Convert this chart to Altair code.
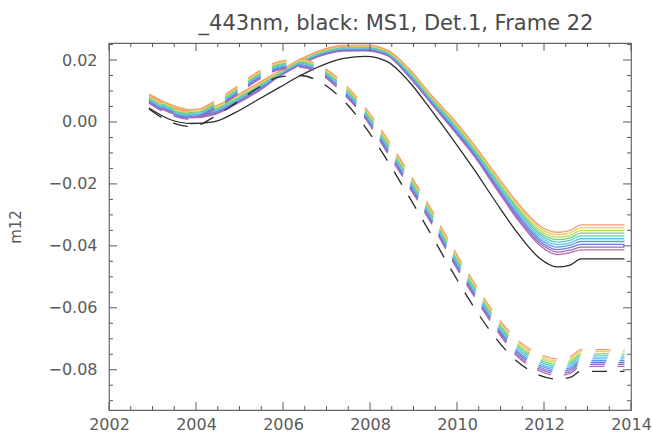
import altair as alt
import pandas as pd

# Sample years shared by every curve
YEARS = [2002.92, 2003.4, 2003.9, 2004.4, 2004.9, 2005.4, 2005.9, 2006.4, 2006.9,
         2007.4, 2007.9, 2008.4, 2008.9, 2009.4, 2009.9, 2010.4, 2010.9, 2011.4,
         2011.9, 2012.3, 2012.6, 2012.85, 2013.85]

SERIES = ["black", "c0", "c1", "c2", "c3", "c4", "c5", "c6", "c7", "c8", "c9"]
COLORS = ["#2a2a2a", "#b06aa8", "#9a6cc4", "#6f78d8", "#5a9be6", "#6cc0ee",
          "#5ccfc0", "#6fcf7a", "#b8dc6a", "#f2d060", "#f79a6e"]

# Solid curves
SOLID_BLACK = [0.0045, 0.0008, -0.0005, 0.0000, 0.0030, 0.0070, 0.0110, 0.0150, 0.0183, 0.0205, 0.0212, 0.0195, 0.0130, 0.0040, -0.0055, -0.0155, -0.0260, -0.0360, -0.0440, -0.0468, -0.0462, -0.0442, -0.0442]
SOLID_C0 = [0.0063, 0.0030, 0.0013, 0.0023, 0.0056, 0.0096, 0.0145, 0.0185, 0.0215, 0.0229, 0.0230, 0.0214, 0.0145, 0.0061, -0.0024, -0.0111, -0.0215, -0.0316, -0.0398, -0.0428, -0.0422, -0.0413, -0.0413]
SOLID_C1 = [0.0066, 0.0033, 0.0016, 0.0026, 0.0059, 0.0099, 0.0147, 0.0187, 0.0217, 0.0231, 0.0232, 0.0216, 0.0148, 0.0064, -0.0020, -0.0107, -0.0210, -0.0310, -0.0391, -0.0420, -0.0414, -0.0404, -0.0404]
SOLID_C2 = [0.0069, 0.0036, 0.0019, 0.0029, 0.0062, 0.0102, 0.0149, 0.0189, 0.0219, 0.0233, 0.0234, 0.0218, 0.0151, 0.0067, -0.0016, -0.0103, -0.0205, -0.0304, -0.0384, -0.0412, -0.0406, -0.0395, -0.0395]
SOLID_C3 = [0.0072, 0.0039, 0.0022, 0.0032, 0.0065, 0.0105, 0.0151, 0.0191, 0.0221, 0.0235, 0.0236, 0.0220, 0.0154, 0.0070, -0.0012, -0.0099, -0.0200, -0.0298, -0.0377, -0.0404, -0.0398, -0.0386, -0.0386]
SOLID_C4 = [0.0075, 0.0042, 0.0025, 0.0035, 0.0068, 0.0108, 0.0153, 0.0193, 0.0223, 0.0237, 0.0238, 0.0222, 0.0157, 0.0073, -0.0008, -0.0095, -0.0195, -0.0292, -0.0370, -0.0396, -0.0390, -0.0377, -0.0377]
SOLID_C5 = [0.0078, 0.0045, 0.0028, 0.0038, 0.0071, 0.0111, 0.0155, 0.0195, 0.0225, 0.0239, 0.0240, 0.0224, 0.0160, 0.0076, -0.0004, -0.0091, -0.0190, -0.0286, -0.0363, -0.0388, -0.0382, -0.0368, -0.0368]
SOLID_C6 = [0.0081, 0.0048, 0.0031, 0.0041, 0.0074, 0.0114, 0.0157, 0.0197, 0.0227, 0.0241, 0.0242, 0.0226, 0.0163, 0.0079, 0.0000, -0.0087, -0.0185, -0.0280, -0.0356, -0.0380, -0.0374, -0.0359, -0.0359]
SOLID_C7 = [0.0084, 0.0051, 0.0034, 0.0044, 0.0077, 0.0117, 0.0159, 0.0199, 0.0229, 0.0243, 0.0244, 0.0228, 0.0166, 0.0082, 0.0004, -0.0083, -0.0180, -0.0274, -0.0349, -0.0372, -0.0366, -0.0350, -0.0350]
SOLID_C8 = [0.0087, 0.0054, 0.0037, 0.0047, 0.0080, 0.0120, 0.0161, 0.0201, 0.0231, 0.0245, 0.0246, 0.0230, 0.0169, 0.0085, 0.0008, -0.0079, -0.0175, -0.0268, -0.0342, -0.0364, -0.0358, -0.0341, -0.0341]
SOLID_C9 = [0.0090, 0.0057, 0.0040, 0.0050, 0.0083, 0.0123, 0.0163, 0.0203, 0.0233, 0.0247, 0.0248, 0.0232, 0.0172, 0.0088, 0.0012, -0.0075, -0.0170, -0.0262, -0.0335, -0.0356, -0.0350, -0.0332, -0.0332]

# Dashed curves
DASH_BLACK = [0.0042, 0.0000, -0.0015, 0.0015, 0.0060, 0.0108, 0.0145, 0.0150, 0.0125, 0.0068, -0.0018, -0.0125, -0.0242, -0.0362, -0.0485, -0.0600, -0.0700, -0.0775, -0.0818, -0.0830, -0.0825, -0.0805, -0.0805]
DASH_C0 = [0.0061, 0.0023, 0.0008, 0.0038, 0.0083, 0.0133, 0.0168, 0.0176, 0.0151, 0.0089, 0.0009, -0.0100, -0.0210, -0.0325, -0.0450, -0.0565, -0.0670, -0.0759, -0.0804, -0.0819, -0.0812, -0.0789, -0.0789]
DASH_C1 = [0.0064, 0.0026, 0.0011, 0.0041, 0.0086, 0.0136, 0.0171, 0.0179, 0.0154, 0.0093, 0.0013, -0.0095, -0.0205, -0.0320, -0.0445, -0.0560, -0.0665, -0.0753, -0.0798, -0.0813, -0.0806, -0.0783, -0.0783]
DASH_C2 = [0.0067, 0.0029, 0.0014, 0.0044, 0.0089, 0.0139, 0.0174, 0.0182, 0.0157, 0.0097, 0.0017, -0.0090, -0.0200, -0.0315, -0.0440, -0.0555, -0.0660, -0.0747, -0.0792, -0.0807, -0.0800, -0.0777, -0.0777]
DASH_C3 = [0.0070, 0.0032, 0.0017, 0.0047, 0.0092, 0.0142, 0.0177, 0.0185, 0.0160, 0.0101, 0.0021, -0.0085, -0.0195, -0.0310, -0.0435, -0.0550, -0.0655, -0.0741, -0.0786, -0.0801, -0.0794, -0.0771, -0.0771]
DASH_C4 = [0.0073, 0.0035, 0.0020, 0.0050, 0.0095, 0.0145, 0.0180, 0.0188, 0.0163, 0.0105, 0.0025, -0.0080, -0.0190, -0.0305, -0.0430, -0.0545, -0.0650, -0.0735, -0.0780, -0.0795, -0.0788, -0.0765, -0.0765]
DASH_C5 = [0.0076, 0.0038, 0.0023, 0.0053, 0.0098, 0.0148, 0.0183, 0.0191, 0.0166, 0.0109, 0.0029, -0.0075, -0.0185, -0.0300, -0.0425, -0.0540, -0.0645, -0.0729, -0.0774, -0.0789, -0.0782, -0.0759, -0.0759]
DASH_C6 = [0.0079, 0.0041, 0.0026, 0.0056, 0.0101, 0.0151, 0.0186, 0.0194, 0.0169, 0.0113, 0.0033, -0.0070, -0.0180, -0.0295, -0.0420, -0.0535, -0.0640, -0.0723, -0.0768, -0.0783, -0.0776, -0.0753, -0.0753]
DASH_C7 = [0.0082, 0.0044, 0.0029, 0.0059, 0.0104, 0.0154, 0.0189, 0.0197, 0.0172, 0.0117, 0.0037, -0.0065, -0.0175, -0.0290, -0.0415, -0.0530, -0.0635, -0.0717, -0.0762, -0.0777, -0.0770, -0.0747, -0.0747]
DASH_C8 = [0.0085, 0.0047, 0.0032, 0.0062, 0.0107, 0.0157, 0.0192, 0.0200, 0.0175, 0.0121, 0.0041, -0.0060, -0.0170, -0.0285, -0.0410, -0.0525, -0.0630, -0.0711, -0.0756, -0.0771, -0.0764, -0.0741, -0.0741]
DASH_C9 = [0.0088, 0.0050, 0.0035, 0.0065, 0.0110, 0.0160, 0.0195, 0.0203, 0.0178, 0.0125, 0.0045, -0.0055, -0.0165, -0.0280, -0.0405, -0.0520, -0.0625, -0.0705, -0.0750, -0.0765, -0.0758, -0.0735, -0.0735]

SOLID = dict(zip(SERIES, [SOLID_BLACK, SOLID_C0, SOLID_C1, SOLID_C2, SOLID_C3, SOLID_C4,
                          SOLID_C5, SOLID_C6, SOLID_C7, SOLID_C8, SOLID_C9]))
DASHED = dict(zip(SERIES, [DASH_BLACK, DASH_C0, DASH_C1, DASH_C2, DASH_C3, DASH_C4,
                           DASH_C5, DASH_C6, DASH_C7, DASH_C8, DASH_C9]))

TITLE = "_443nm, black: MS1, Det.1, Frame 22"
X_MAJOR = [2002, 2004, 2006, 2008, 2010, 2012, 2014]
Y_MAJOR = [-0.08, -0.06, -0.04, -0.02, 0.0, 0.02]

# Plot box and styling
W, H = 522, 367
X_DOMAIN = [2002, 2014]
Y_DOMAIN = [-0.093, 0.0255]
FONT = "DejaVu Sans"
INK = "#5a5a5a"
MAJOR_LEN, MINOR_LEN = 8, 4

rows = []
for style, table in (("solid", SOLID), ("dashed", DASHED)):
    for order, (name, vals) in enumerate(table.items()):
        for yr, v in zip(YEARS, vals):
            rows.append({"year": yr, "m12": v, "series": name, "style": style, "order": order})
df = pd.DataFrame(rows)

# inward tick positions (majors and minors)
x_minor = [2002 + 0.5 * i for i in range(25) if i % 4]
y_minor = [round(-0.09 + 0.005 * i, 3) for i in range(24) if i % 4 != 2]

xs = alt.Scale(domain=X_DOMAIN, nice=False, zero=False)
ys = alt.Scale(domain=Y_DOMAIN, nice=False, zero=False)
color = alt.Color("series:N", scale=alt.Scale(domain=SERIES, range=COLORS), legend=None)


def x_ticks(values, length, side):
    y0 = H if side == "bottom" else 0
    y1 = H - length if side == "bottom" else length
    return alt.Chart(pd.DataFrame({"pos": values})).mark_rule(
        color=INK, strokeWidth=1
    ).encode(x=alt.X("pos:Q", scale=xs), y=alt.value(y0), y2=alt.value(y1))


def y_ticks(values, length, side):
    x0 = 0 if side == "left" else W
    x1 = length if side == "left" else W - length
    return alt.Chart(pd.DataFrame({"pos": values})).mark_rule(
        color=INK, strokeWidth=1
    ).encode(y=alt.Y("pos:Q", scale=ys), x=alt.value(x0), x2=alt.value(x1))


base = alt.Chart(df)

solid = base.transform_filter(alt.datum.style == "solid").mark_line(
    interpolate="monotone", strokeWidth=1.3
).encode(
    x=alt.X("year:Q", scale=xs, axis=alt.Axis(
        values=X_MAJOR, format="d", ticks=False, domain=False, grid=False, title=None,
        labelFont=FONT, labelFontSize=16, labelColor=INK, labelPadding=6,
        labelFlush=False, labelOverlap=False)),
    y=alt.Y("m12:Q", scale=ys, axis=alt.Axis(
        values=Y_MAJOR, format=".2f", ticks=False, domain=False, grid=False, title="m12",
        labelFont=FONT, labelFontSize=16, labelColor=INK, labelPadding=12,
        labelFlush=False, labelOverlap=False,
        titleFont=FONT, titleFontSize=15, titleColor=INK, titleFontWeight="normal",
        titlePadding=24)),
    color=color,
    order="order:Q",
)

dashed = base.transform_filter(alt.datum.style == "dashed").mark_line(
    interpolate="monotone", strokeWidth=1.3, strokeDash=[15, 13]
).encode(
    x=alt.X("year:Q", scale=xs),
    y=alt.Y("m12:Q", scale=ys),
    color=color,
    order="order:Q",
)

ticks = [
    x_ticks(X_MAJOR, MAJOR_LEN, "bottom"), x_ticks(x_minor, MINOR_LEN, "bottom"),
    x_ticks(X_MAJOR, MAJOR_LEN, "top"), x_ticks(x_minor, MINOR_LEN, "top"),
    y_ticks(Y_MAJOR, MAJOR_LEN, "left"), y_ticks(y_minor, MINOR_LEN, "left"),
    y_ticks(Y_MAJOR, MAJOR_LEN, "right"), y_ticks(y_minor, MINOR_LEN, "right"),
]

chart = alt.layer(solid, dashed, *ticks).properties(
    width=W, height=H,
    title=alt.Title(TITLE, font=FONT, fontSize=21, fontWeight="normal", color="#4a4a4a",
                    anchor="middle", offset=9, dx=26),
    autosize=alt.AutoSizeParams(type="none"),
    padding={"left": 109, "top": 43, "right": 22, "bottom": 30},
).configure_view(stroke="#666666", strokeWidth=1.2)

chart.save("out.html", embed_options={"renderer": "svg", "actions": False})
